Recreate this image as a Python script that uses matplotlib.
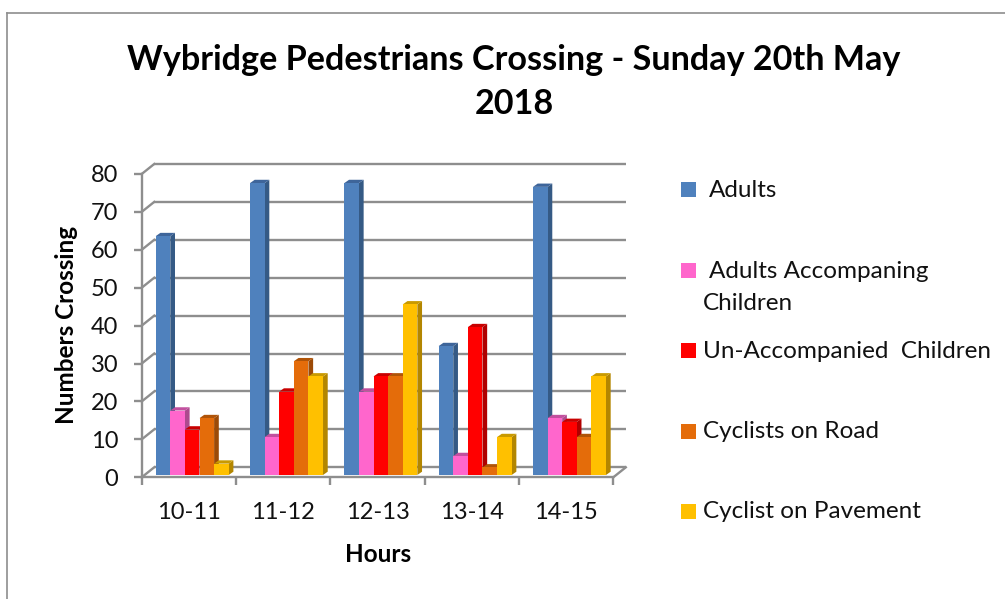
import matplotlib
matplotlib.use("Agg")
import matplotlib.pyplot as plt
from matplotlib.patches import Rectangle
from matplotlib.lines import Line2D

plt.rcParams['font.family'] = ['Lato', 'DejaVu Sans']

hours = ['10-11', '11-12', '12-13', '13-14', '14-15']
series_names = ['Adults', 'Adults Accompaning', 'Un-Accompanied  Children', 'Cyclists on Road', 'Cyclist on Pavement']
adults = [63, 77, 77, 34, 76]
adults_acc = [17, 10, 22, 5, 15]
unaccompanied = [12, 22, 26, 39, 14]
cyclists_road = [15, 30, 26, 2, 10]
cyclists_pave = [3, 26, 45, 10, 26]
series = [adults, adults_acc, unaccompanied, cyclists_road, cyclists_pave]
front_cols = ['#4F81BD', '#FF66CC', '#FF0000', '#E46C0A', '#FFC000']
side_cols = ['#355A85', '#AD4A8E', '#B00000', '#9C4A07', '#B38600']
top_cols = ['#3E659A', '#C2509F', '#C80000', '#B05408', '#C99A00']

W, H = 1005, 599
GREY = '#8E8E8E'
fig = plt.figure(figsize=(W / 100, H / 100), dpi=100, facecolor='white')

def fx(px): return px / W
def fy(py): return 1 - py / H

L, R, T, B = 141.7, 613.3, 174.0, 477.3
ax = fig.add_axes([fx(L), fy(B), fx(R) - fx(L), fy(T) - fy(B)])
ax.set_xlim(0, 5)
ax.set_ylim(0, 80)
ax.patch.set_alpha(0)
xu = (R - L) / 5      # px per category
yu = (B - T) / 80     # px per value unit

# wall depth (px -> data)
WX, WY = 12.5 / xu, 10 / yu
# bar placement
BAR_W = 14.6 / xu
START = 14.0 / xu
BASE = 2.3 / yu
DX, DY = 4.7 / xu, 3.3 / yu

# walls
ticks_y = list(range(0, 90, 10))
for v in ticks_y:
    ax.plot([WX, 5 + WX], [v + WY, v + WY], color=GREY, lw=1.7, clip_on=False, zorder=1, solid_capstyle='butt')
    ax.plot([0, WX], [v, v + WY], color=GREY, lw=1.7, clip_on=False, zorder=1)
ax.plot([5, 5 + WX], [0, WY], color=GREY, lw=1.7, clip_on=False, zorder=1)

# bars
for c in range(len(hours)):
    for s, vals in enumerate(series):
        v = vals[c]
        x0 = c + START + s * BAR_W
        x1 = x0 + BAR_W
        y0, y1 = BASE, BASE + v
        ax.fill([x1, x1 + DX, x1 + DX, x1], [y0, y0 + DY, y1 + DY, y1], color=side_cols[s], lw=0, clip_on=False, zorder=3)
        ax.fill([x0, x0 + DX, x1 + DX, x1], [y1, y1 + DY, y1 + DY, y1], color=top_cols[s], lw=0, clip_on=False, zorder=3)
        ax.bar(x0, v, width=BAR_W, bottom=BASE, align='edge', color=front_cols[s], lw=0, clip_on=False, zorder=3)

# axes
for sp in ['top', 'right']:
    ax.spines[sp].set_visible(False)
for sp in ['left', 'bottom']:
    ax.spines[sp].set_color(GREY)
    ax.spines[sp].set_linewidth(1.7)
    ax.spines[sp].set_zorder(2)
ax.set_yticks(ticks_y)
ax.set_xticks(range(6))
ax.set_xticklabels([])
ax.set_xticks([i + 0.5 for i in range(5)], minor=True)
ax.set_xticklabels(hours, minor=True, fontsize=17, color='#111111')
ax.tick_params(axis='x', which='minor', length=0, pad=18)
ax.tick_params(axis='x', which='major', length=6, width=1.7, color=GREY)
ax.tick_params(axis='y', length=6, width=1.7, color=GREY, labelsize=17, labelcolor='#111111', pad=11)

# titles
fig.text(fx(514), fy(60), 'Wybridge Pedestrians Crossing - Sunday 20th May', fontsize=24.6, fontweight='bold', ha='center', va='center', color='black')
fig.text(fx(514), fy(104), '2018', fontsize=24.6, fontweight='bold', ha='center', va='center', color='black')
fig.text(fx(67), fy(325), 'Numbers Crossing', fontsize=17.5, fontweight='bold', rotation=90, ha='center', va='center', color='black')
fig.text(fx(378), fy(554), 'Hours', fontsize=17.5, fontweight='bold', ha='center', va='center', color='black')

# legend
leg_y = [189.5, 270.5, 350.5, 431.5, 511.5]
leg_x = [709, 709, 703, 703, 703]
for s, name in enumerate(series_names):
    fig.add_artist(Rectangle((fx(681), fy(leg_y[s] + 7.5)), 15 / W, 15 / H, transform=fig.transFigure, color=front_cols[s], lw=0))
    fig.text(fx(leg_x[s]), fy(leg_y[s] + 0.5), name, fontsize=17.5, ha='left', va='center', color='#111111')
fig.text(fx(703), fy(303), 'Children', fontsize=17.5, ha='left', va='center', color='#111111')

# outer frame
fig.add_artist(Line2D([fx(7), fx(7)], [fy(13), 0], transform=fig.transFigure, color=GREY, lw=1.2))
fig.add_artist(Line2D([fx(7), 1], [fy(13), fy(13)], transform=fig.transFigure, color=GREY, lw=1.2))

fig.savefig('out.png', dpi=100)
